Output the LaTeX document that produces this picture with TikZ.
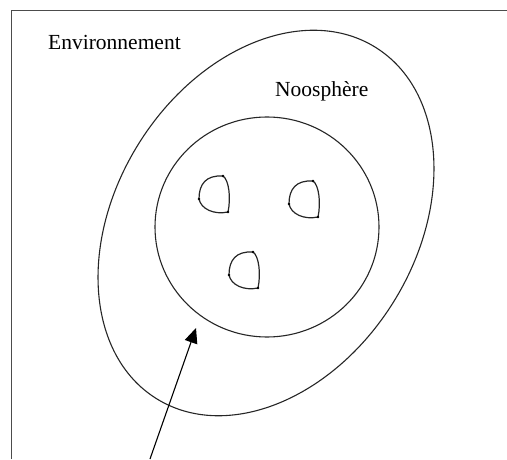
\documentclass[tikz,border=0pt]{standalone}
\usepackage{fontspec}
\setmainfont{Liberation Serif}
\usetikzlibrary{arrows.meta,calc}
\begin{document}
\begin{tikzpicture}[x=1pt,y=1pt]
	\tikzset{every node/.style={inner sep=0pt, font=\fontsize{21.5}{26}\selectfont},
		ring/.style={line width=1.1pt, draw=black!85},
		loopline/.style={line width=1.2pt, draw=black!85},
		pin/.style={fill=black, radius=1.4pt}
	}
	\useasboundingbox (0,0) rectangle (507,459);
	% cadre
	\draw[line width=1pt, draw=black!70] (11,0) -- (11,448) -- (507,448);
	\node (env) at (48,409) [anchor=base west] {Environnement};
	\node (noo) at (275,362) [anchor=base west] {Noosphère};
	% noosphere et systeme
	\draw[ring, rotate around={58:(266,236)}] (266,236) ellipse [x radius=207, y radius=150];
	\draw[ring] (267,232) ellipse [x radius=112, y radius=110];
	% boucles
	\foreach \tx/\ty in {223/283, 313/278, 253/207}{
		\coordinate (t) at (\tx,\ty);
		\coordinate (l) at (\tx-24,\ty-23);
		\coordinate (b) at (\tx+5,\ty-36);
		\draw[loopline] (t) .. controls ($(t)+(-17,1)$) and ($(l)+(0,15)$) .. (l)
			.. controls ($(l)+(2,-10)$) and ($(b)+(-14,-3)$) .. (b)
			.. controls ($(b)+(3,14)$) and ($(t)+(6,-4)$) .. (t);
		\fill[pin] (t) circle; \fill[pin] (l) circle; \fill[pin] (b) circle;
	}
	% fleche
	\coordinate (from) at (150,0);
	\coordinate (to) at (196,131);
	\draw[line width=1.1pt, -{Triangle[length=15pt,width=13pt]}] (from) -- (to);
\end{tikzpicture}
\end{document}
